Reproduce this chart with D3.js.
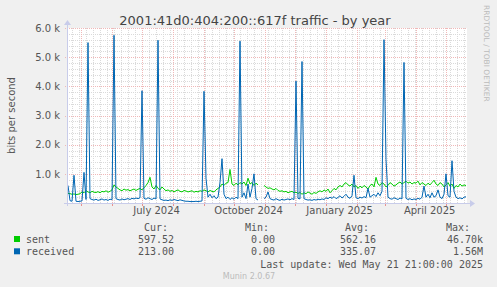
<!DOCTYPE html>
<html><head><meta charset="utf-8">
<script src="https://cdn.jsdelivr.net/npm/d3@7"></script>
<style>
html,body{margin:0;padding:0;background:#F0F0F0;}
svg{display:block;}
</style></head>
<body>
<script>
// ---------- data ----------
const title = "2001:41d0:404:200::617f traffic - by year";
const yLabel = "bits per second";
const startDate = Date.UTC(2024, 3, 16, 21);
const endDate = Date.UTC(2025, 4, 21, 21);
const stepDays = 2;
const received = [
 600,80,60,950,60,50,60,70,1050,120,
 5500,150,120,100,130,90,110,140,100,120,
 90,130,110,5750,150,120,100,140,110,130,
 150,120,160,140,170,150,180,3850,160,130,
 180,150,120,170,140,5580,140,110,90,100,
 80,110,90,120,100,80,110,90,70,60,
 60,50,50,50,60,50,60,70,3830,850,
 200,300,180,250,150,200,700,1520,300,150,
 200,120,180,130,200,150,5550,200,350,150,
 650,200,500,1000,150,100,null,null,150,200,
 380,150,120,100,150,110,90,130,100,120,
 140,110,150,120,4180,160,140,4850,150,120,
 100,110,90,120,100,130,110,140,120,180,
 150,200,160,220,150,190,250,170,230,300,
 200,160,250,950,180,150,200,170,220,180,
 500,200,250,300,220,350,250,400,5600,1500,
 200,150,130,180,150,120,170,140,4820,160,
 120,150,110,140,120,160,130,200,580,200,
 300,180,350,200,250,450,200,150,300,1000,
 250,200,1450,400,200,150,180,140,200,213
];
const sent = [
 330,320,300,310,290,300,320,380,350,420,
 380,350,400,370,360,390,350,400,380,420,
 370,400,450,620,550,500,450,420,480,440,
 460,420,450,480,430,470,500,450,520,600,
 700,880,550,480,600,500,450,550,480,420,
 450,400,430,380,420,450,400,380,430,410,
 380,400,420,370,400,380,420,400,450,420,
 380,430,400,380,450,500,550,650,600,680,
 700,1150,650,600,680,620,700,650,720,600,
 850,650,700,600,680,620,null,null,600,550,
 500,520,480,450,500,430,400,420,380,400,
 350,380,400,350,370,330,360,300,350,320,
 380,340,300,360,330,380,420,380,450,400,
 480,350,420,500,450,550,600,550,650,700,
 620,580,650,550,600,500,580,520,600,550,
 480,600,650,550,880,650,600,700,650,550,
 600,700,650,580,620,680,720,650,700,750,
 680,720,650,700,680,750,620,700,650,600,
 680,620,700,780,650,600,700,650,550,620,
 700,580,650,500,600,550,650,580,620,598
];
const yTicksMajor = [1000, 2000, 3000, 4000, 5000, 6000];
const yTickLabels = ["1.0 k", "2.0 k", "3.0 k", "4.0 k", "5.0 k", "6.0 k"];
const xLabelDates = [Date.UTC(2024,6,15), Date.UTC(2024,9,15), Date.UTC(2025,0,14), Date.UTC(2025,3,14)];
const xLabels = ["July 2024", "October 2024", "January 2025", "April 2025"];
const seriesNames = ["sent", "received"];
const seriesColors = ["#00CC00", "#0066B3"];
const curVals = ["597.52", "213.00"];
const minVals = ["0.00", "0.00"];
const avgVals = ["562.16", "335.07"];
const maxVals = ["46.70k", "1.56M"];
const lastUpdate = "Last update: Wed May 21 21:00:00 2025";
const version = "Munin 2.0.67";

// ---------- chart ----------
const W = 497, H = 287;
const L = 67, R = 467, T = 28, B = 203;
const svg = d3.select("body").append("svg").attr("width", W).attr("height", H);
svg.append("rect").attr("width", W).attr("height", H).attr("fill", "#F0F0F0");
svg.append("rect").attr("x", L).attr("y", T).attr("width", R - L).attr("height", B - T).attr("fill", "#FFFFFF");

const x = d3.scaleTime().domain([new Date(startDate), new Date(endDate)]).range([L, R]);
const y = d3.scaleLinear().domain([0, 6000]).range([B, T]);

const minorCol = "#DADADA", majorCol = "#F0B8B8";
const g = svg.append("g").attr("shape-rendering", "crispEdges");
// minor horizontal grid
d3.range(200, 6001, 200).filter(v => v % 1000 !== 0).forEach(v => {
  g.append("line").attr("x1", L).attr("x2", R).attr("y1", Math.round(y(v)) + 0.5).attr("y2", Math.round(y(v)) + 0.5)
   .attr("stroke", minorCol).attr("stroke-dasharray", "1,1");
});
// minor vertical grid (weekly)
const weeks = d3.utcMonday.range(new Date(startDate), new Date(endDate));
weeks.forEach(d => {
  const px = Math.round(x(d)) + 0.5;
  g.append("line").attr("x1", px).attr("x2", px).attr("y1", T).attr("y2", B)
   .attr("stroke", minorCol).attr("stroke-dasharray", "1,1");
});
// major vertical grid (monthly)
const months = d3.utcMonth.range(new Date(startDate), new Date(endDate));
months.forEach(d => {
  const px = Math.round(x(d)) + 0.5;
  g.append("line").attr("x1", px).attr("x2", px).attr("y1", T).attr("y2", B)
   .attr("stroke", majorCol).attr("stroke-dasharray", "1,1");
  g.append("line").attr("x1", px).attr("x2", px).attr("y1", B).attr("y2", B + 3)
   .attr("stroke", "#E89090");
});
// major horizontal grid
yTicksMajor.forEach(v => {
  g.append("line").attr("x1", L - 2).attr("x2", R).attr("y1", Math.round(y(v)) + 0.5).attr("y2", Math.round(y(v)) + 0.5)
   .attr("stroke", majorCol).attr("stroke-dasharray", "1,1");
});

// y tick labels
const yAxis = d3.axisLeft(y).tickValues(yTicksMajor).tickSize(0).tickPadding(7)
  .tickFormat((d, i) => yTickLabels[i]);
const ya = svg.append("g").attr("transform", `translate(${L},0)`).call(yAxis);
ya.select(".domain").remove();
ya.selectAll("text").attr("font-family", "DejaVu Sans").attr("font-size", 10).attr("fill", "#555");

// x labels
const xAxis = d3.axisBottom(x).tickValues(xLabelDates.map(d => new Date(d))).tickSize(0).tickPadding(4)
  .tickFormat((d, i) => xLabels[i]);
const xa = svg.append("g").attr("transform", `translate(0,${B})`).call(xAxis);
xa.select(".domain").remove();
xa.selectAll("text").attr("font-family", "DejaVu Sans").attr("font-size", 10).attr("fill", "#555");

// lines
const mk = arr => arr.map((v, i) => ({t: new Date(startDate + (i * stepDays + 1) * 86400000), v}));
const line = d3.line().defined(d => d.v !== null).x(d => x(d.t)).y(d => y(d.v));
[sent, received].forEach((arr, k) => {
  svg.append("path").datum(mk(arr)).attr("d", line).attr("fill", "none")
    .attr("stroke", seriesColors[k]).attr("stroke-width", 1);
});

// axes
const ax = svg.append("g").attr("shape-rendering", "crispEdges");
ax.append("line").attr("x1", L - 3).attr("x2", R + 4).attr("y1", B + 0.5).attr("y2", B + 0.5).attr("stroke", "#C8CCEA");
ax.append("line").attr("x1", L + 0.5).attr("x2", L + 0.5).attr("y1", T - 4).attr("y2", B + 3).attr("stroke", "#C8CCEA");
svg.append("path").attr("d", `M${R + 3},${B - 3} L${R + 8},${B + 0.5} L${R + 3},${B + 4} Z`).attr("fill", "#C8CCEA");
svg.append("path").attr("d", `M${L - 3},${T - 3} L${L + 0.5},${T - 8} L${L + 4},${T - 3} Z`).attr("fill", "#C8CCEA");

// title
svg.append("text").attr("x", 255).attr("y", 25).attr("text-anchor", "middle")
  .attr("font-family", "DejaVu Sans").attr("font-size", 13).attr("fill", "#444").text(title);
// y label
svg.append("text").attr("transform", `translate(15,${(T + B) / 2}) rotate(-90)`).attr("text-anchor", "middle")
  .attr("font-family", "DejaVu Sans").attr("font-size", 10).attr("fill", "#555").text(yLabel);
// watermark
svg.append("text").attr("transform", `translate(484,5) rotate(90)`).attr("text-anchor", "start")
  .attr("font-family", "DejaVu Sans").attr("font-size", 7.5).attr("fill", "#BBBBBB").text("RRDTOOL / TOBI OETIKER");

// legend
const mono = "DejaVu Sans Mono";
const lg = svg.append("g").attr("font-family", mono).attr("font-size", 10).attr("fill", "#555");
const cols = [
  {head: "Cur:", hx: 168, vx: 174, vals: curVals},
  {head: "Min:", hx: 269, vx: 275, vals: minVals},
  {head: "Avg:", hx: 369, vx: 376, vals: avgVals},
  {head: "Max:", hx: 470, vx: 483, vals: maxVals}
];
cols.forEach(c => {
  lg.append("text").attr("x", c.hx).attr("y", 231).attr("text-anchor", "end").text(c.head);
  c.vals.forEach((v, i) => {
    lg.append("text").attr("x", c.vx).attr("y", 243 + i * 12.3).attr("text-anchor", "end").text(v);
  });
});
seriesNames.forEach((n, i) => {
  lg.append("rect").attr("x", 14).attr("y", 236 + i * 12.3).attr("width", 6).attr("height", 6).attr("fill", seriesColors[i]);
  lg.append("text").attr("x", 26).attr("y", 243 + i * 12.3).text(n);
});
lg.append("text").attr("x", 483).attr("y", 267.5).attr("text-anchor", "end").text(lastUpdate);
svg.append("text").attr("x", 249).attr("y", 279).attr("text-anchor", "middle")
  .attr("font-family", "DejaVu Sans").attr("font-size", 8).attr("fill", "#BBBBBB").text(version);
</script>
</body></html>
